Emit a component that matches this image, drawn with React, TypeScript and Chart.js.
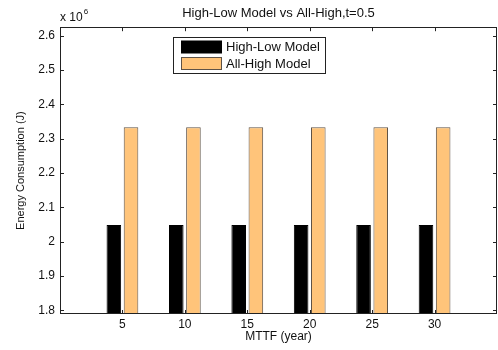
import React, { useEffect, useRef } from "react";
import { Chart, registerables } from "chart.js";

Chart.register(...registerables);

const categories = [5, 10, 15, 20, 25, 30];
const highLowModel = [2.0485e6, 2.0485e6, 2.0485e6, 2.0485e6, 2.0485e6, 2.0485e6];
const allHighModel = [2.333e6, 2.333e6, 2.333e6, 2.333e6, 2.333e6, 2.333e6];
const yTickValues = [1.8e6, 1.9e6, 2.0e6, 2.1e6, 2.2e6, 2.3e6, 2.4e6, 2.5e6, 2.6e6];
const seriesLabels = ["High-Low Model", "All-High Model"];
const chartTitle = "High-Low Model vs All-High,t=0.5";
const xTitle = "MTTF (year)";
const yTitle = "Energy Consumption (J)";
const yExponentBase = "x 10";
const yExponent = "6";
const yScaleFactor = 1e6;

const FONT = "'Liberation Sans', Arial, sans-serif";
const INK = "#111";

const boxPlugin = {
  id: "matlabBox",
  afterDatasetsDraw(chart: any) {
    const { ctx, chartArea, scales } = chart;
    const { left, right, top, bottom } = chartArea;
    ctx.save();
    ctx.strokeStyle = "#222";
    ctx.lineWidth = 1;
    ctx.beginPath();
    scales.x.ticks.forEach((t: any) => {
      const px = Math.round(scales.x.getPixelForValue(t.value)) + 0.5;
      ctx.moveTo(px, bottom);
      ctx.lineTo(px, bottom - 4);
      ctx.moveTo(px, top);
      ctx.lineTo(px, top + 4);
    });
    scales.y.ticks.forEach((t: any) => {
      const py = Math.round(scales.y.getPixelForValue(t.value)) + 0.5;
      ctx.moveTo(left, py);
      ctx.lineTo(left + 4, py);
      ctx.moveTo(right, py);
      ctx.lineTo(right - 4, py);
    });
    ctx.stroke();
    const l = Math.round(left) + 0.5;
    const t = Math.round(top) + 0.5;
    const r = Math.round(right) - 0.5;
    const b = Math.round(bottom) - 0.5;
    ctx.strokeRect(l, t, r - l, b - t);
    ctx.restore();
  },
  afterDraw(chart: any) {
    const { ctx, chartArea } = chart;
    const { left, top } = chartArea;
    ctx.save();
    // exponent label
    ctx.fillStyle = INK;
    ctx.textBaseline = "alphabetic";
    ctx.textAlign = "left";
    ctx.font = `12px ${FONT}`;
    ctx.fillText(yExponentBase, left, 21);
    const w = ctx.measureText(yExponentBase).width;
    ctx.font = `8px ${FONT}`;
    ctx.fillText(yExponent, left + w + 1, 14);

    // legend
    const lx = Math.round(left + 113) + 0.5;
    const ly = Math.round(top + 10) + 0.5;
    const lw = 152;
    const lh = 36;
    ctx.fillStyle = "#fff";
    ctx.fillRect(lx, ly, lw, lh);
    ctx.strokeStyle = "#222";
    ctx.lineWidth = 1;
    ctx.strokeRect(lx, ly, lw, lh);
    chart.data.datasets.forEach((ds: any, i: number) => {
      const sy = ly + 3.5 + i * 16.5;
      ctx.fillStyle = ds.backgroundColor;
      ctx.fillRect(lx + 8, sy, 40, 12);
      ctx.strokeStyle = ds.borderColor;
      ctx.strokeRect(lx + 8, sy, 40, 12);
      ctx.fillStyle = INK;
      ctx.font = `13px ${FONT}`;
      ctx.textBaseline = "middle";
      ctx.fillText(ds.label, lx + 52.5, sy + 6.5);
    });
    ctx.restore();
  },
};

export default function App() {
  const canvasRef = useRef<HTMLCanvasElement | null>(null);

  useEffect(() => {
    if (!canvasRef.current) return;
    const chart = new Chart(canvasRef.current, {
      type: "bar",
      data: {
        datasets: [
          {
            label: seriesLabels[0],
            data: categories.map((c, i) => ({ x: c, y: highLowModel[i] })),
            backgroundColor: "#000000",
            borderColor: "#000000",
            borderWidth: 1,
            categoryPercentage: 0.55,
            barPercentage: 0.85,
          },
          {
            label: seriesLabels[1],
            data: categories.map((c, i) => ({ x: c, y: allHighModel[i] })),
            backgroundColor: "#FFC47A",
            borderColor: "#5e5246",
            borderWidth: 1,
            categoryPercentage: 0.55,
            barPercentage: 0.85,
          },
        ],
      },
      options: {
        responsive: false,
        animation: false,
        layout: { padding: { left: 0, right: 1, top: 0, bottom: 0 } },
        plugins: {
          legend: { display: false },
          tooltip: { enabled: false },
          title: {
            display: true,
            text: chartTitle,
            fullSize: false,
            color: INK,
            font: { family: FONT, size: 13, weight: "normal" },
            padding: { top: 5.7, bottom: 5.9 },
          },
        },
        scales: {
          x: {
            type: "linear",
            min: 0,
            max: 35,
            offset: false,
            grid: { display: false, drawTicks: false, offset: false },
            border: { display: false },
            ticks: {
              color: INK,
              font: { family: FONT, size: 12 },
              padding: 3,
              maxRotation: 0,
            },
            afterBuildTicks: (s: any) => {
              s.ticks = categories.map((v) => ({ value: v }));
            },
            afterFit: (s: any) => {
              s.height = 36;
            },
            title: {
              display: true,
              text: xTitle,
              color: INK,
              font: { family: FONT, size: 12 },
              padding: { top: 0, bottom: 6.5 },
            },
          },
          y: {
            type: "linear",
            min: 1.789e6,
            max: 2.625e6,
            grid: { display: false, drawTicks: false },
            border: { display: false },
            ticks: {
              color: INK,
              font: { family: FONT, size: 12 },
              padding: 5,
              callback: (v: any) => String(Number((Number(v) / yScaleFactor).toFixed(1))),
            },
            afterBuildTicks: (s: any) => {
              s.ticks = yTickValues.map((v) => ({ value: v }));
            },
            afterFit: (s: any) => {
              s.width = 60;
            },
            title: {
              display: true,
              text: yTitle,
              color: INK,
              font: { family: FONT, size: 11 },
              padding: { top: 14.4, bottom: 0 },
            },
          },
        },
      },
      plugins: [boxPlugin],
    });
    return () => chart.destroy();
  }, []);

  return (
    <div style={{ position: "fixed", left: 0, top: 0, width: 498, height: 350, background: "#fff" }}>
      <canvas ref={canvasRef} width={498} height={350} />
    </div>
  );
}
